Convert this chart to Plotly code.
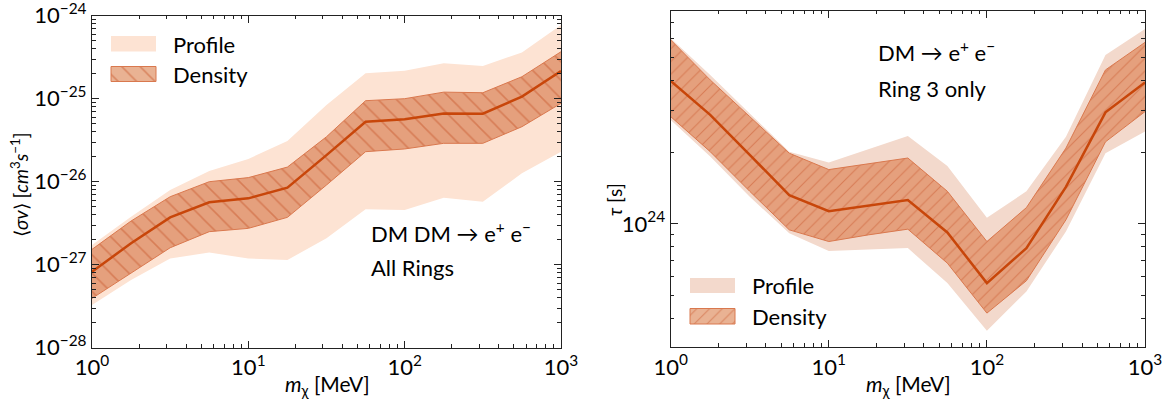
import plotly.graph_objects as go

# ---------------- data ----------------
m_chi = [1.0, 1.778, 3.162, 5.623, 10.0, 17.78, 31.62, 56.23, 100.0, 177.8, 316.2, 562.3, 1000.0]

# Left: <sigma v> [cm^3 s^-1], all rings
sv_central = [8.24e-28, 1.81e-27, 3.72e-27, 5.64e-27, 6.30e-27, 8.47e-27, 2.09e-26, 5.28e-26, 5.64e-26, 6.65e-26, 6.59e-26, 1.06e-25, 2.15e-25]
sv_dens_hi = [1.53e-27, 3.36e-27, 6.59e-27, 1.00e-26, 1.12e-26, 1.50e-26, 3.48e-26, 9.46e-26, 1.00e-25, 1.20e-25, 1.18e-25, 1.84e-25, 3.68e-25]
sv_dens_lo = [3.93e-28, 7.87e-28, 1.60e-27, 2.50e-27, 2.74e-27, 3.72e-27, 9.12e-27, 2.30e-26, 2.48e-26, 2.90e-26, 2.90e-26, 4.60e-26, 8.79e-26]
sv_prof_hi = [1.73e-27, 3.79e-27, 7.94e-27, 1.35e-26, 1.88e-26, 3.09e-26, 8.39e-26, 2.02e-25, 2.17e-25, 2.67e-25, 2.47e-25, 3.61e-25, 7.72e-25]
sv_prof_lo = [3.27e-28, 6.53e-28, 1.19e-27, 1.40e-27, 1.19e-27, 1.14e-27, 2.08e-27, 4.65e-27, 4.56e-27, 6.41e-27, 5.74e-27, 1.26e-26, 2.30e-26]

# Right: tau [s], ring 3 only
tau_central = [3.98e24, 2.87e24, 1.95e24, 1.32e24, 1.13e24, 1.19e24, 1.26e24, 9.20e23, 5.64e23, 7.91e23, 1.43e24, 2.94e24, 3.92e24]
tau_dens_hi = [5.92e24, 4.02e24, 2.82e24, 1.98e24, 1.69e24, 1.79e24, 1.89e24, 1.37e24, 8.43e23, 1.17e24, 2.08e24, 4.43e24, 5.78e24]
tau_dens_lo = [2.82e24, 2.01e24, 1.37e24, 9.44e23, 8.43e23, 8.99e23, 9.50e23, 6.84e23, 4.22e23, 5.77e23, 1.04e24, 2.21e24, 2.96e24]
tau_prof_hi = [6.01e24, 4.22e24, 2.91e24, 2.01e24, 1.81e24, 2.06e24, 2.34e24, 1.75e24, 1.06e24, 1.37e24, 2.32e24, 5.12e24, 6.58e24]
tau_prof_lo = [2.73e24, 1.92e24, 1.30e24, 9.14e23, 7.70e23, 7.78e23, 7.91e23, 5.64e23, 3.56e23, 5.20e23, 9.29e23, 1.98e24, 2.44e24]

x_tickvals = [1, 10, 100, 1000]
x_ticktext = ["10<sup>0</sup>", "10<sup>1</sup>", "10<sup>2</sup>", "10<sup>3</sup>"]
sv_tickvals = [1e-28, 1e-27, 1e-26, 1e-25, 1e-24]
sv_ticktext = ["10<sup>\u221228</sup>", "10<sup>\u221227</sup>", "10<sup>\u221226</sup>", "10<sup>\u221225</sup>", "10<sup>\u221224</sup>"]
tau_tickvals = [1e24]
tau_ticktext = ["10<sup>24</sup>"]

# ---------------- style ----------------
W, H = 1171, 401
FONT = "Lato"
LINE_C = "#c8460a"
DENS_BG = "#e5a07d"
DENS_FG = "#c95a30"
EDGE_C = "#d9784e"
PROF_L = "#fde3d3"
PROF_R = "#f3d9cc"
pattern_size = {"\\": 13, "/": 9}

fig = go.Figure()

def band(lo, hi, xa, ya, color, pattern=None, edge=None, name=""):
    fig.add_trace(go.Scatter(x=m_chi, y=lo, mode="lines", xaxis=xa, yaxis=ya,
                             line=dict(color=edge if edge else "rgba(0,0,0,0)", width=1),
                             showlegend=False, hoverinfo="skip"))
    kw = dict(x=m_chi, y=hi, mode="lines", xaxis=xa, yaxis=ya, fill="tonexty",
              line=dict(color=edge if edge else "rgba(0,0,0,0)", width=1),
              showlegend=False, name=name, fillcolor=color)
    if pattern:
        kw["fillpattern"] = dict(shape=pattern, bgcolor=color, fgcolor=DENS_FG,
                                 size=pattern_size[pattern], solidity=0.12)
    fig.add_trace(go.Scatter(**kw))

# left panel
band(sv_prof_lo, sv_prof_hi, "x", "y", PROF_L, name="Profile")
band(sv_dens_lo, sv_dens_hi, "x", "y", DENS_BG, pattern="\\", edge=EDGE_C, name="Density")
fig.add_trace(go.Scatter(x=m_chi, y=sv_central, mode="lines", xaxis="x", yaxis="y",
                         line=dict(color=LINE_C, width=2.5), showlegend=False))
# right panel
band(tau_prof_lo, tau_prof_hi, "x2", "y2", PROF_R, name="Profile")
band(tau_dens_lo, tau_dens_hi, "x2", "y2", DENS_BG, pattern="/", edge=EDGE_C, name="Density")
fig.add_trace(go.Scatter(x=m_chi, y=tau_central, mode="lines", xaxis="x2", yaxis="y2",
                         line=dict(color=LINE_C, width=2.5), showlegend=False))

# ---------------- legend swatches on a pixel overlay axis ----------------
def swatch(x0, y0, x1, y1, color, pattern=None, edge=None):
    kw = dict(x=[x0, x1, x1, x0, x0], y=[y0, y0, y1, y1, y0], mode="lines", fill="toself",
              xaxis="x3", yaxis="y3", showlegend=False, hoverinfo="skip",
              line=dict(color=edge if edge else "rgba(0,0,0,0)", width=1), fillcolor=color)
    if pattern:
        kw["fillpattern"] = dict(shape=pattern, bgcolor="#e9b293", fgcolor=DENS_FG,
                                 size=pattern_size[pattern], solidity=0.12)
    fig.add_trace(go.Scatter(**kw))

swatch(111, 36, 156, 51.5, PROF_L)
swatch(111, 66.5, 156, 81.5, DENS_BG, pattern="\\", edge=EDGE_C)
swatch(690, 278, 735, 293, PROF_R)
swatch(690, 308.5, 735, 324, DENS_BG, pattern="/", edge=EDGE_C)

def text(x, y, s, size=22, xanchor="left", yanchor="middle", angle=0):
    fig.add_annotation(x=x, y=y, xref="x3", yref="y3", text=s, showarrow=False,
                       xanchor=xanchor, yanchor=yanchor, textangle=angle,
                       font=dict(family=FONT, size=size, color="black"))

text(171, 44, "Profile")
text(171, 74, "Density")
text(750, 285.5, "Profile")
text(750, 316, "Density")
text(369, 232, "DM DM \u2192 e<sup>+</sup> e<sup>\u2212</sup>")
text(369, 267, "All Rings")
text(876, 51, "DM \u2192 e<sup>+</sup> e<sup>\u2212</sup>")
text(876, 88, "Ring 3 only")
# axis titles
text(327, 385, "<i>m</i><sub>\u03c7</sub> [MeV]", size=21, xanchor="center")
text(908, 385, "<i>m</i><sub>\u03c7</sub> [MeV]", size=21, xanchor="center")
text(19, 185, "\u27e8<i>\u03c3v</i>\u27e9 [<i>cm</i><sup>3</sup><i>s</i><sup>\u22121</sup>]", size=19, xanchor="center", angle=-90)
text(614, 200, "<i>\u03c4</i> [s]", size=19, xanchor="center", angle=-90)

# ---------------- axes ----------------
def log_axis(domain, rng, tickvals, ticktext, anchor):
    return dict(type="log", domain=domain, range=rng, anchor=anchor, automargin=False,
                showline=True, linecolor="#222", linewidth=1.2, mirror="allticks",
                ticks="inside", ticklen=7, tickwidth=1, tickcolor="#222",
                tickmode="array", tickvals=tickvals, ticktext=ticktext,
                ticklabeloverflow="allow",
                tickfont=dict(family=FONT, size=22, color="black"),
                minor=dict(ticks="inside", ticklen=3.5, tickwidth=1, tickcolor="#222", dtick="D1", showgrid=False),
                showgrid=False, zeroline=False)

lx = [92 / W, 561 / W]
ly = [(H - 347.7) / H, (H - 15.7) / H]
rx = [670.7 / W, 1145 / W]
ry = [(H - 347) / H, (H - 10.7) / H]

fig.update_layout(
    width=W, height=H, autosize=False,
    margin=dict(l=0, r=0, t=0, b=0, pad=0, autoexpand=False),
    paper_bgcolor="white", plot_bgcolor="rgba(0,0,0,0)",
    font=dict(family=FONT, color="black"),
    showlegend=False,
    xaxis=log_axis(lx, [0, 3], x_tickvals, x_ticktext, "y"),
    yaxis=log_axis(ly, [-28, -24], sv_tickvals, sv_ticktext, "x"),
    xaxis2=log_axis(rx, [0, 3], x_tickvals, x_ticktext, "y2"),
    yaxis2=log_axis(ry, [23.483, 24.895], tau_tickvals, tau_ticktext, "x2"),
    xaxis3=dict(domain=[0, 1], range=[0, W], visible=False, anchor="y3", fixedrange=True),
    yaxis3=dict(domain=[0, 1], range=[H, 0], visible=False, anchor="x3", fixedrange=True),
)

fig.write_html("out.html")
